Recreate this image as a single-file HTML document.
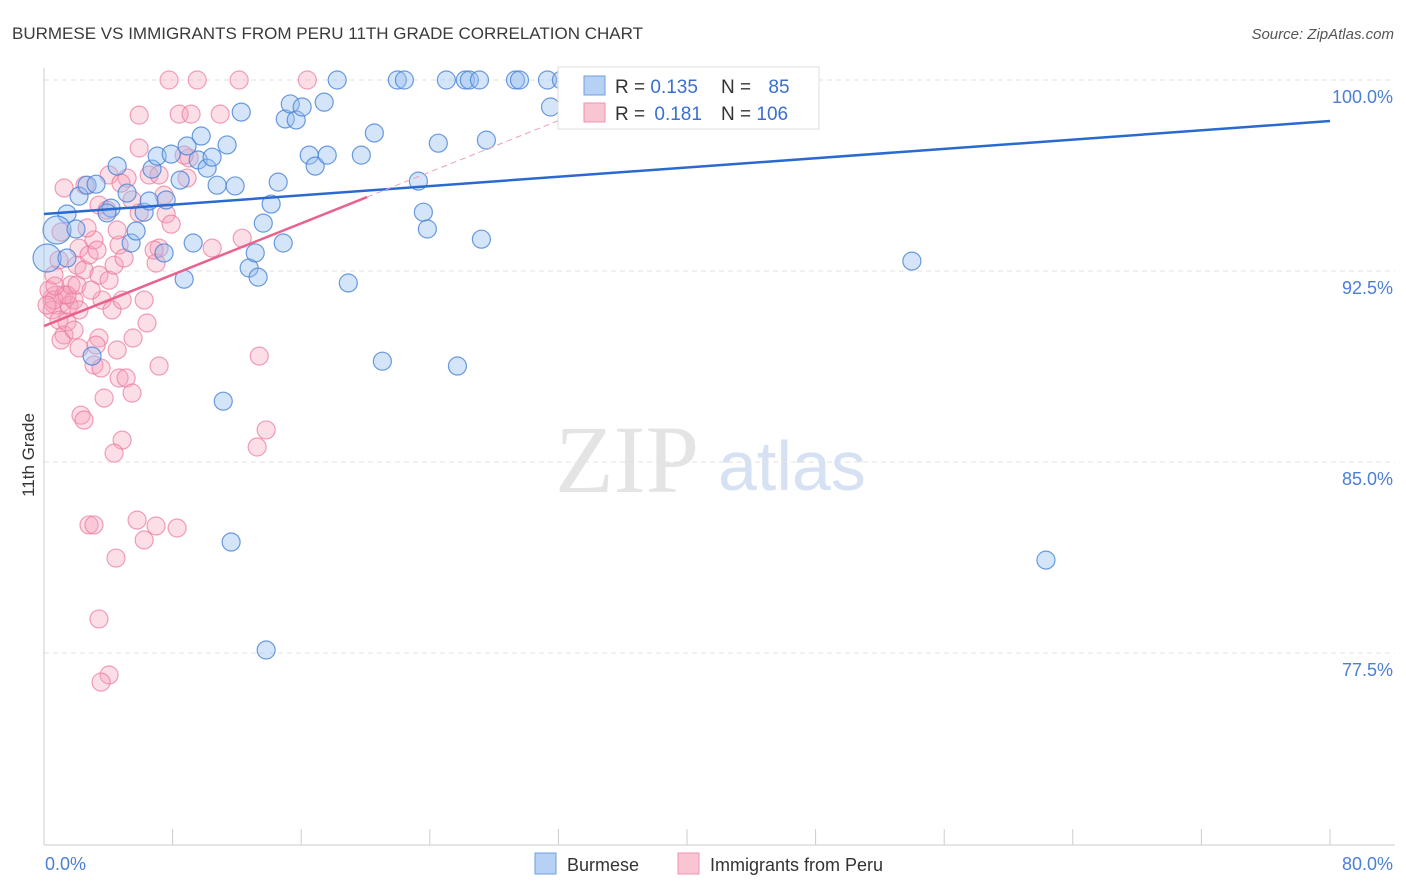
<!DOCTYPE html>
<html><head><meta charset="utf-8"><style>
body{margin:0;background:#fff;font-family:"Liberation Sans",sans-serif;}
#wrap{position:relative;width:1406px;height:892px;overflow:hidden;}
</style></head><body>
<div id="wrap">
<svg id="chart" width="1406" height="892">
<text x="12" y="39" font-size="17" fill="#3a3a3a">BURMESE VS IMMIGRANTS FROM PERU 11TH GRADE CORRELATION CHART</text>
<text x="1394" y="39" font-size="15" fill="#555" font-style="italic" text-anchor="end">Source: ZipAtlas.com</text>
<text x="34" y="455" font-size="17" fill="#333" text-anchor="middle" transform="rotate(-90 34 455)">11th Grade</text>
<text x="555" y="492" font-size="96" fill="#e4e4e4" font-family="Liberation Serif,serif">ZIP</text>
<text x="718" y="490" font-size="70" fill="#d6e2f3">atlas</text>
<g id="grid"></g><g id="axes"></g><g id="pts"></g><g id="lines"></g>
<g>
<rect x="558" y="67" width="261" height="62" fill="#fff" stroke="#ddd"/>
<rect x="584" y="76" width="21" height="19" fill="#b6d1f3" stroke="#6fa0e0"/>
<rect x="584" y="103" width="21" height="19" fill="#fac5d3" stroke="#ee93ae"/>
<text x="615" y="93" font-size="19" fill="#333">R = <tspan fill="#3a6fd0">0.135</tspan></text>
<text x="721" y="93" font-size="19" fill="#333">N = <tspan fill="#3a6fd0" dx="12">85</tspan></text>
<text x="615" y="120" font-size="19" fill="#333">R = <tspan fill="#3a6fd0" dx="4">0.181</tspan></text>
<text x="721" y="120" font-size="19" fill="#333">N = <tspan fill="#3a6fd0">106</tspan></text>
</g>
<g>
<rect x="535" y="853" width="21" height="21" fill="#b6d1f3" stroke="#6fa0e0"/>
<text x="567" y="871" font-size="18" fill="#333">Burmese</text>
<rect x="678" y="853" width="21" height="21" fill="#fac5d3" stroke="#ee93ae"/>
<text x="710" y="871" font-size="18" fill="#333">Immigrants from Peru</text>
</g>
</svg></div>
<script>
const yTicks=[100,92.5,85,77.5];
const yTickLabels=["100.0%","92.5%","85.0%","77.5%"];
const xTickLabels=["0.0%","80.0%"];
const blueX=[1.43,0.81,2.18,2.68,3.24,4.17,4.55,3.92,5.17,5.42,5.73,6.23,6.54,6.72,7.04,7.60,7.91,8.47,8.90,9.28,9.59,9.78,10.15,10.46,10.77,11.39,11.89,12.27,12.76,13.14,13.32,13.64,14.13,14.57,14.88,15.01,15.32,15.69,16.06,16.50,16.87,17.43,17.62,18.24,18.93,19.74,20.55,21.05,21.98,22.42,23.29,23.60,23.85,24.53,25.03,25.72,26.21,26.46,27.09,27.21,27.52,29.33,29.58,31.32,31.51,32.19,11.15,11.64,13.82,2.99,8.72,53.99,62.33,46.39,0.19,1.43,1.99,7.47];
const blueY=[94.74,94.11,95.44,95.87,95.91,94.97,96.62,94.78,95.56,93.60,94.07,94.81,95.25,96.50,97.01,95.29,97.09,96.07,97.41,93.60,96.86,97.80,96.54,96.97,95.87,97.45,95.84,98.74,92.62,93.21,92.26,94.38,95.13,95.99,93.60,98.47,99.06,98.43,98.94,97.05,96.62,99.13,97.05,100,92.03,97.05,97.92,88.96,100,100,96.03,94.81,94.15,97.52,100,88.77,100,100,100,93.75,97.64,100,100,100,98.94,100,87.39,81.86,77.62,89.16,92.18,92.89,81.15,98.74,93.01,93.01,94.15,93.21];
const blueR=[9,14,9,9,9,9,9,9,9,9,9,9,9,9,9,9,9,9,9,9,9,9,9,9,9,9,9,9,9,9,9,9,9,9,9,9,9,9,9,9,9,9,9,9,9,9,9,9,9,9,9,9,9,9,9,9,9,9,9,9,9,9,9,9,9,9,9,9,9,9,9,9,9,9,14,9,9,9];
const pinkX=[0.81,0.31,0.50,0.93,0.62,0.93,1.25,1.56,1.87,2.18,1.25,1.06,1.43,1.68,2.05,2.18,2.49,2.80,3.11,3.30,3.42,3.61,4.05,4.23,4.36,4.67,4.98,4.86,4.55,3.42,3.11,3.55,2.18,4.67,5.11,3.74,5.48,2.30,2.49,4.86,4.36,6.41,6.23,5.54,6.97,7.16,6.85,7.60,7.91,7.47,5.92,5.92,6.54,7.16,8.41,8.90,9.03,8.72,9.15,9.53,7.78,10.96,10.46,12.14,12.33,16.38,13.39,13.82,13.26,2.80,3.11,4.48,5.79,6.23,6.97,8.28,3.42,4.05,3.55,1.25,2.55,3.42,3.92,4.55,5.17,4.05,4.79,5.48,7.16,5.92,3.24,2.68,1.06,1.87,0.62,1.43,0.19,2.05,2.93,0.68];
const pinkY=[91.36,91.75,90.97,90.57,92.34,92.93,91.56,91.16,91.36,90.97,89.99,89.79,90.50,91.95,92.73,93.40,92.54,93.13,93.72,93.32,92.34,91.36,92.14,90.97,92.73,93.52,93.01,91.36,89.40,89.87,88.81,88.69,89.48,88.30,88.30,87.51,87.71,86.84,86.65,85.86,85.35,90.46,91.36,89.87,92.81,93.40,93.32,94.74,94.34,95.48,97.33,98.62,96.27,96.27,98.66,96.15,96.94,97.05,98.66,100,100,98.66,93.40,100,93.79,100,89.16,86.26,85.59,82.53,82.53,81.23,82.72,81.94,82.49,82.41,78.84,76.64,76.36,95.76,95.87,95.09,94.89,94.11,96.15,96.27,95.95,95.29,88.77,94.78,89.59,94.19,94.03,90.18,91.36,91.56,91.16,91.95,91.75,91.91];
const pinkR=[14].concat(new Array(99).fill(9));
const blueFit=[94.74,98.39];
const pinkFit=[90.34,0.252];

const NS="http://www.w3.org/2000/svg";
const X0=44,XW=1286,Y0=80,YS=25.47;
function sx(v){return X0+v/80*XW;}
function sy(v){return Y0+(100-v)*YS;}
function mk(t,a,p){const e=document.createElementNS(NS,t);for(const k in a)e.setAttribute(k,a[k]);p.appendChild(e);return e;}
const grid=document.getElementById('grid'),axes=document.getElementById('axes'),pts=document.getElementById('pts'),lines=document.getElementById('lines');
yTicks.forEach((v,i)=>{
 const l=mk('line',{x1:X0,x2:1395,y1:sy(v),y2:sy(v),stroke:'#e2e2e2','stroke-dasharray':'5,4'},grid);
 
 
 const t=mk('text',{x:1393,y:sy(v)+23,'text-anchor':'end','font-size':'18',fill:'#4a7fd4'},axes);
 t.textContent=yTickLabels[i];
 
 
});
const ax=mk('line',{x1:X0,x2:1395,y1:845,y2:845,stroke:'#ccc'},axes);


const ay=mk('line',{x1:X0,x2:X0,y1:68,y2:845,stroke:'#ccc'},axes);


for(let i=1;i<=10;i++){
 const tk=mk('line',{x1:sx(i*8),x2:sx(i*8),y1:829,y2:845,stroke:'#ccc'},axes);
 
 
}
[[0,'start',45],[80,'end',1393]].forEach((d,i)=>{
 const t=mk('text',{x:d[2],y:870,'text-anchor':d[1],'font-size':'18',fill:'#4a7fd4'},axes);
 t.textContent=xTickLabels[i];
 
 
});
pinkX.forEach((v,i)=>{
 const c=mk('circle',{cx:sx(v),cy:sy(pinkY[i]),r:pinkR[i],fill:'rgba(245,160,185,0.35)',stroke:'rgba(235,120,155,0.7)','stroke-width':1.2},pts);
 
 
});
blueX.forEach((v,i)=>{
 const c=mk('circle',{cx:sx(v),cy:sy(blueY[i]),r:blueR[i],fill:'rgba(150,190,240,0.4)',stroke:'rgba(70,130,215,0.8)','stroke-width':1.2},pts);
 
 
});
const bl=mk('line',{x1:sx(0),y1:sy(blueFit[0]),x2:sx(80),y2:sy(blueFit[1]),stroke:'#2a6ad0','stroke-width':2.5},lines);


const pl=mk('line',{x1:sx(0),y1:sy(pinkFit[0]),x2:sx(20.1),y2:sy(pinkFit[0]+pinkFit[1]*20.1),stroke:'#e8628e','stroke-width':2.5},lines);


const pd=mk('line',{x1:sx(20.1),y1:sy(pinkFit[0]+pinkFit[1]*20.1),x2:sx(32),y2:sy(pinkFit[0]+pinkFit[1]*32),stroke:'#eaa0b8','stroke-width':1,'stroke-dasharray':'6,4'},lines);


</script>
</body></html>
